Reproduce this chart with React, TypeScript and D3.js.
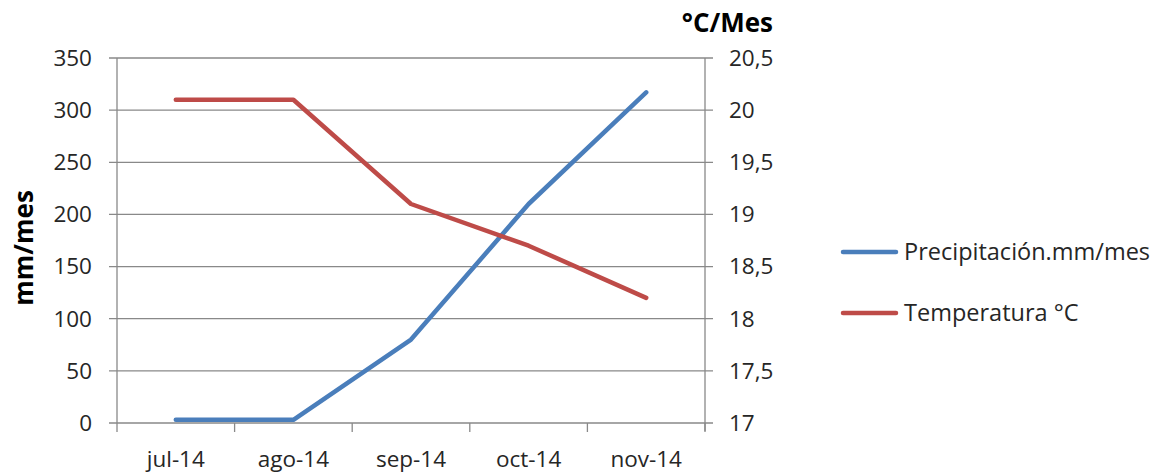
import React from "react";
import * as d3 from "d3";

const months = ["jul-14", "ago-14", "sep-14", "oct-14", "nov-14"];
const precipitation = [3, 3, 80, 210, 317];
const temperature = [20.1, 20.1, 19.1, 18.7, 18.2];
const leftTicks = [0, 50, 100, 150, 200, 250, 300, 350];
const rightTicks = [17, 17.5, 18, 18.5, 19, 19.5, 20, 20.5];
const seriesNames = ["Precipitación.mm/mes", "Temperatura °C"];
const colors = ["#4A7EBB", "#BE4B48"];

const W = 1169;
const H = 473;
const plot = { left: 117, right: 705, top: 58, bottom: 423 };
const FONT = "Open Sans, Calibri, sans-serif";
const TICK_SIZE = 22.5;

export default function App() {
  const x = d3.scaleBand<string>().domain(months).range([plot.left, plot.right]);
  const yL = d3.scaleLinear().domain([0, 350]).range([plot.bottom, plot.top]);
  const yR = d3.scaleLinear().domain([17, 20.5]).range([plot.bottom, plot.top]);
  const cx = (m: string) => (x(m) ?? 0) + x.bandwidth() / 2;

  const precipLine = d3
    .line<number>()
    .x((_, i) => cx(months[i]))
    .y((d) => yL(d));
  const tempLine = d3
    .line<number>()
    .x((_, i) => cx(months[i]))
    .y((d) => yR(d));

  const fmt = (v: number) => String(v).replace(".", ",");
  const xTicks = [...months.map((m) => x(m) ?? 0), plot.right];

  return (
    <svg
      width={W}
      height={H}
      style={{ position: "absolute", left: 0, top: 0, background: "#fff" }}
      fontFamily={FONT}
    >
      {/* horizontal gridlines with tick stubs on both sides */}
      {leftTicks.map((t) => (
        <line
          key={"g" + t}
          x1={plot.left - 8}
          x2={plot.right + 8}
          y1={yL(t)}
          y2={yL(t)}
          stroke="#898989"
          strokeWidth={1.3}
        />
      ))}
      {/* vertical axes */}
      <line x1={plot.left} x2={plot.left} y1={plot.top} y2={plot.bottom} stroke="#898989" strokeWidth={1.3} />
      <line x1={plot.right} x2={plot.right} y1={plot.top} y2={plot.bottom + 8} stroke="#898989" strokeWidth={1.3} />
      {/* category tick marks */}
      {xTicks.map((t, i) => (
        <line key={"xt" + i} x1={t} x2={t} y1={plot.bottom} y2={plot.bottom + 9} stroke="#898989" strokeWidth={1.3} />
      ))}

      {/* left axis labels */}
      {leftTicks.map((t) => (
        <text key={"l" + t} x={plot.left - 25} y={yL(t)} dy="0.35em" textAnchor="end" fontSize={TICK_SIZE} fill="#262626">
          {t}
        </text>
      ))}
      {/* right axis labels */}
      {rightTicks.map((t) => (
        <text key={"r" + t} x={plot.right + 24} y={yR(t)} dy="0.35em" textAnchor="start" fontSize={TICK_SIZE} fill="#262626">
          {fmt(t)}
        </text>
      ))}
      {/* category labels */}
      {months.map((m) => (
        <text key={m} x={cx(m)} y={467} textAnchor="middle" fontSize={TICK_SIZE} fill="#262626">
          {m}
        </text>
      ))}

      {/* axis titles */}
      <text
        transform={`translate(33, 248) rotate(-90)`}
        textAnchor="middle"
        fontSize={26}
        fontWeight="bold"
        fill="#000"
      >
        mm/mes
      </text>
      <text x={773} y={32} textAnchor="end" fontSize={26} fontWeight="bold" fill="#000">
        °C/Mes
      </text>

      {/* series */}
      <path d={precipLine(precipitation) ?? ""} fill="none" stroke={colors[0]} strokeWidth={4.5} strokeLinecap="round" strokeLinejoin="round" />
      <path d={tempLine(temperature) ?? ""} fill="none" stroke={colors[1]} strokeWidth={4.5} strokeLinecap="round" strokeLinejoin="round" />

      {/* legend */}
      {seriesNames.map((name, i) => {
        const y = 252 + i * 61;
        return (
          <g key={name}>
            <line x1={843} x2={896} y1={y} y2={y} stroke={colors[i]} strokeWidth={4.5} strokeLinecap="round" />
            <text x={904} y={y} dy="0.35em" fontSize={23.5} fill="#262626">
              {name}
            </text>
          </g>
        );
      })}
    </svg>
  );
}
